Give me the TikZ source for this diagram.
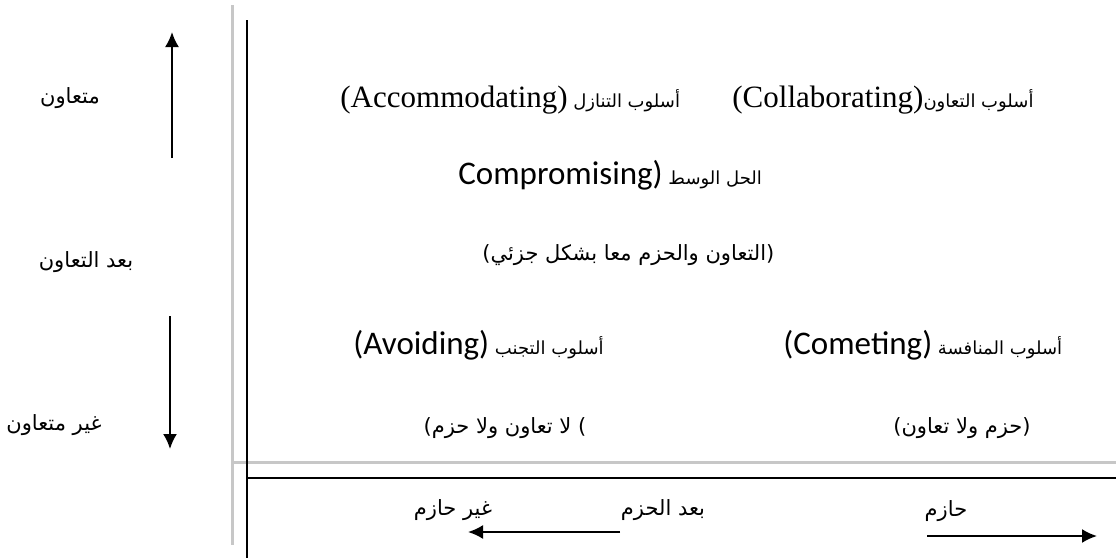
\documentclass[tikz,border=0pt]{standalone}
\usepackage{fontspec}
\setmainfont{Liberation Serif}
\newfontfamily\arabicfont[Script=Arabic]{DejaVu Sans}
\newfontfamily\sansfont{Carlito}
\TeXXeTstate=1
\usetikzlibrary{arrows.meta}

\newcommand{\artxt}[1]{{\arabicfont\fontsize{10.5}{13}\selectfont\beginR #1\endR}}
\newcommand{\arsmall}[1]{{\arabicfont\fontsize{9}{11}\selectfont\beginR #1\endR}}
\newcommand{\sertxt}[1]{\beginL{\rmfamily\fontsize{15.5}{18}\selectfont #1}\endL}
\newcommand{\santxt}[1]{\beginL{\sansfont\fontsize{16.5}{19}\selectfont #1}\endL}
\newcommand{\opn}{\hbox{(}}
\newcommand{\cls}{\hbox{)}}

\begin{document}
\begin{tikzpicture}[x=0.5pt,y=-0.5pt]
        \tikzset{txt/.style = {inner sep=0pt}};
        \tikzset{guide/.style = {draw=black!22,line width=1.5pt}};
        \tikzset{axis/.style = {draw=black,line width=1pt}};
        \tikzset{edge/.style = {-{Latex[length=7.5pt,width=7pt]},line width=1pt}};
        \useasboundingbox (0,0) rectangle (1116,558);
        % axes
        \coordinate (gtop) at (232,5);
        \coordinate (gbot) at (232,545);
        \coordinate (gleft) at (232,462);
        \coordinate (gright) at (1116,462);
        \coordinate (btop) at (247,20);
        \coordinate (bbot) at (247,558);
        \coordinate (bleft) at (247,478);
        \coordinate (bright) at (1116,478);
        \draw[guide] (gtop) -- (gbot);
        \draw[guide] (gleft) -- (gright);
        \draw[axis] (btop) -- (bbot);
        \draw[axis] (bleft) -- (bright);
        % cooperation dimension
        \node[txt] (coop) at (70,98) {\artxt{متعاون}};
        \node[txt] (coopdim) at (86,262) {\artxt{بعد التعاون}};
        \node[txt] (uncoop) at (54,425) {\artxt{غير متعاون}};
        \coordinate (upfrom) at (172,158);
        \coordinate (upto) at (172,32);
        \coordinate (downfrom) at (170,316);
        \coordinate (downto) at (170,449);
        \draw[edge] (upfrom) to (upto);
        \draw[edge] (downfrom) to (downto);
        % assertiveness dimension
        \node[txt] (unassert) at (453,510) {\artxt{غير حازم}};
        \node[txt] (assertdim) at (663,510) {\artxt{بعد الحزم}};
        \node[txt] (assert) at (946,511) {\artxt{حازم}};
        \coordinate (leftfrom) at (620,532);
        \coordinate (leftto) at (468,532);
        \coordinate (rightfrom) at (927,536);
        \coordinate (rightto) at (1097,536);
        \draw[edge] (leftfrom) to (leftto);
        \draw[edge] (rightfrom) to (rightto);
        % styles
        \node[txt,anchor=west] (accom) at (340,100) {\arsmall{أسلوب التنازل \sertxt{\opn Accommodating\cls}}};
        \node[txt,anchor=west] (collab) at (732,100) {\arsmall{أسلوب التعاون\sertxt{\opn Collaborating\cls}}};
        \node[txt,anchor=west] (compro) at (458,175) {\arsmall{الحل الوسط \santxt{Compromising\cls}}};
        \node[txt,anchor=west] (comprodesc) at (482,255) {\artxt{(التعاون والحزم معا بشكل جزئي)}};
        \node[txt,anchor=west] (avoid) at (353,345) {\arsmall{أسلوب التجنب \santxt{\opn Avoiding\cls}}};
        \node[txt,anchor=west] (compet) at (783,345) {\arsmall{أسلوب المنافسة \santxt{\opn Cometing\cls}}};
        \node[txt] (avoiddesc) at (505,428) {\artxt{) لا تعاون ولا حزم)}};
        \node[txt] (competdesc) at (962,428) {\artxt{(حزم ولا تعاون)}};
    \end{tikzpicture}
\end{document}
